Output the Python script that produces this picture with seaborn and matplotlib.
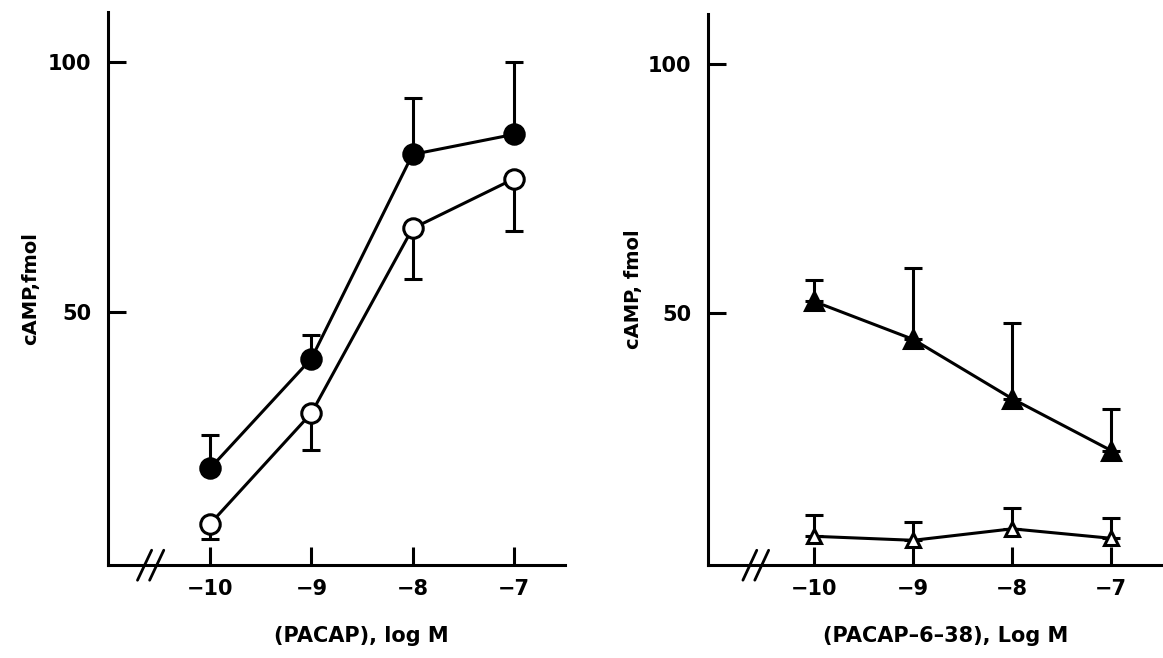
import numpy as np
import pandas as pd
import matplotlib
matplotlib.use("Agg")
import matplotlib.pyplot as plt
import seaborn as sns

# dose (log M)
doses = [-10, -9, -8, -7]

# left panel: PACAP
pacap_filled = [18.8, 40.7, 81.5, 85.5]
pacap_filled_err = [6.6, 4.7, 11.2, 14.5]      # drawn upward
pacap_open = [7.7, 29.8, 66.7, 76.6]
pacap_open_err = [3.1, 7.4, 10.0, 10.5]        # drawn downward

# right panel: PACAP-6-38
antag_filled = [52.3, 44.7, 32.8, 22.4]
antag_filled_err = [4.4, 14.4, 15.1, 8.3]       # upward
antag_open = [5.2, 4.4, 6.7, 4.8]
antag_open_err = [4.2, 3.7, 4.1, 4.0]           # upward

ytick_vals = [50, 100]
xtick_labels = ["\u221210", "\u22129", "\u22128", "\u22127"]

sns.set_style("ticks", {"axes.edgecolor": "black", "text.color": "black",
                        "axes.labelcolor": "black", "xtick.color": "black",
                        "ytick.color": "black"})
plt.rcParams["font.family"] = ["DejaVu Sans"]
plt.rcParams["font.weight"] = "bold"

fig = plt.figure(figsize=(11.63, 6.58), dpi=100)
ax1 = fig.add_axes([0.093, 0.141, 0.393, 0.841])
ax2 = fig.add_axes([0.609, 0.141, 0.389, 0.838])

LW = 2.2


def serie(ax, y, err, up, marker, fill, ms):
    y = np.array(y)
    err = np.array(err)
    zeros = np.zeros_like(err)
    yerr = [zeros, err] if up else [err, zeros]
    ax.errorbar(doses, y, yerr=yerr, fmt="none", ecolor="black",
                elinewidth=LW, capsize=6.5, capthick=LW, zorder=2)
    df = pd.DataFrame({"dose": doses, "camp": y})
    sns.lineplot(data=df, x="dose", y="camp", ax=ax, color="black",
                 linewidth=LW, marker=marker, markersize=ms,
                 markerfacecolor=fill, markeredgecolor="black",
                 markeredgewidth=2.2, zorder=3)


def axe(ax, xlim, ylabel, xlabel, lblx, ypad):
    ax.set_xlim(*xlim)
    ax.set_ylim(-0.6, 110)
    ax.set_xticks(doses)
    ax.set_xticklabels(xtick_labels)
    ax.set_yticks(ytick_vals)
    ax.set_yticklabels([str(v) for v in ytick_vals])
    ax.tick_params(axis="both", direction="in", length=13, width=2.2,
                   labelsize=15, pad=10, colors="black")
    ax.tick_params(axis="y", pad=12)
    for lab in ax.get_xticklabels() + ax.get_yticklabels():
        lab.set_fontweight("bold")
    sns.despine(ax=ax)
    for s in ("left", "bottom"):
        ax.spines[s].set_linewidth(2.2)
        ax.spines[s].set_color("black")
    ax.set_ylabel(ylabel, fontsize=14, fontweight="bold", labelpad=ypad,
                  color="black")
    ax.set_xlabel(xlabel, fontsize=15, fontweight="bold", color="black")
    ax.xaxis.set_label_coords(lblx, -0.11)
    # axis break mark
    for dx in (-0.06, 0.06):
        ax.plot([-10.66 + dx, -10.52 + dx], [-3.6, 2.4], color="black",
                lw=2.0, clip_on=False, zorder=5)


serie(ax1, pacap_filled, pacap_filled_err, True, "o", "black", 14)
serie(ax1, pacap_open, pacap_open_err, False, "o", "white", 14)
axe(ax1, (-11.01, -6.49), "cAMP,fmol", "(PACAP), log M", 0.554, 6)

serie(ax2, antag_filled, antag_filled_err, True, "^", "black", 13)
serie(ax2, antag_open, antag_open_err, True, "^", "white", 10)
axe(ax2, (-11.07, -6.5), "cAMP, fmol", "(PACAP\u20136\u201338), Log M", 0.524, 4)

fig.savefig("out.png", dpi=100)
